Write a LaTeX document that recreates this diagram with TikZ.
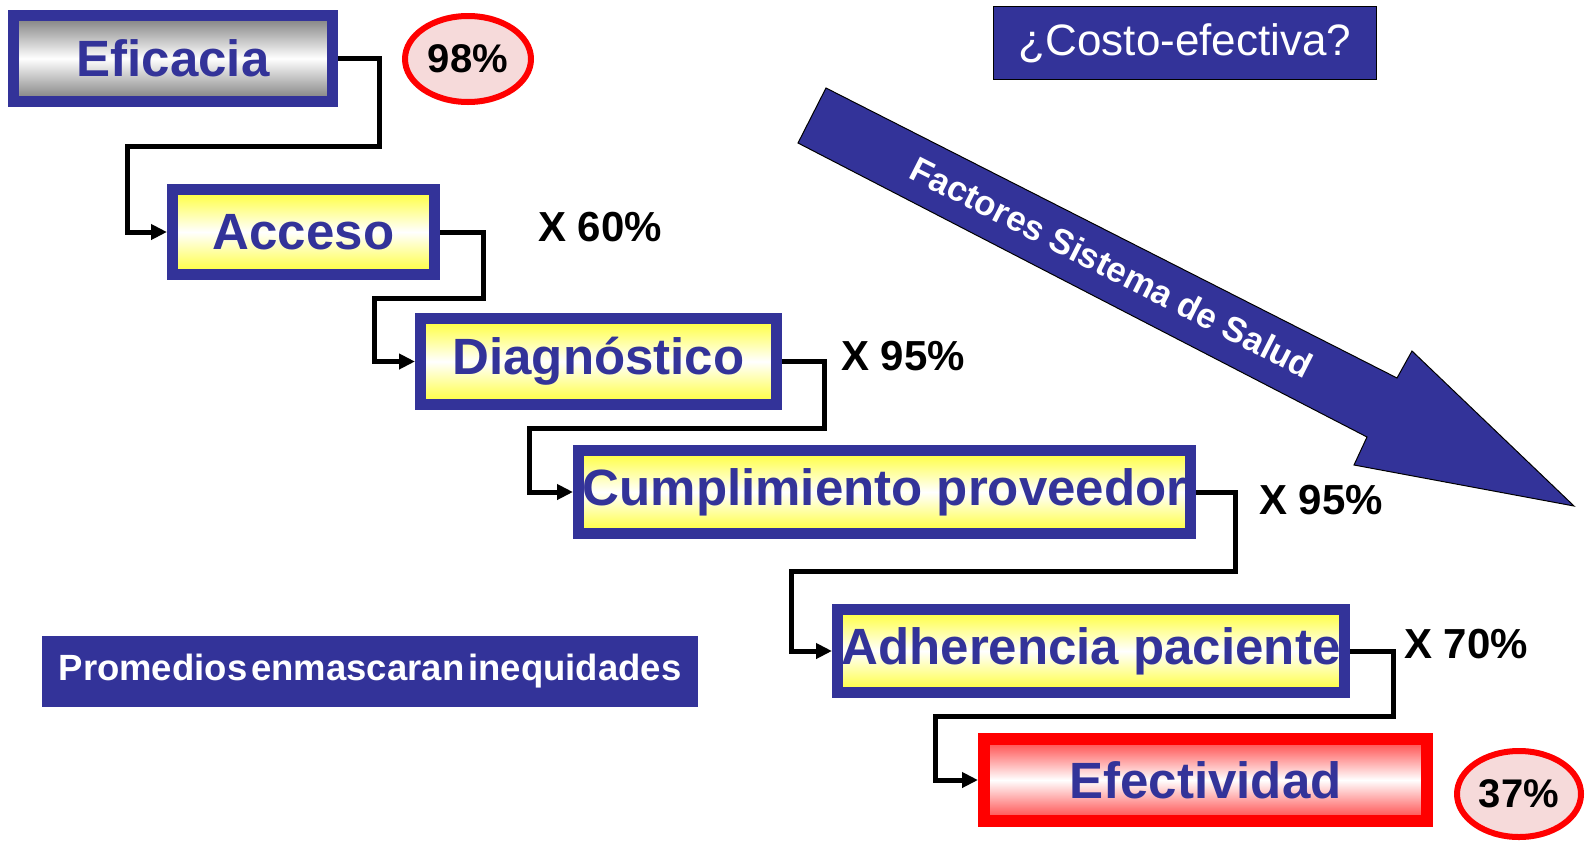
\documentclass[tikz,border=0pt]{standalone}
\usepackage{fontspec}
\setmainfont{Liberation Sans}
\usetikzlibrary{arrows.meta,shapes.geometric}
\definecolor{dblue}{HTML}{333399}
\definecolor{ylw}{HTML}{FFFF33}
\definecolor{pinkfill}{HTML}{F6DADA}
\definecolor{gry}{HTML}{7A7A7A}
\begin{document}
\begin{tikzpicture}[x=1pt,y=-1pt,
  stepbox/.style={draw=dblue, line width=11pt, inner sep=0pt, text=dblue,
    font=\bfseries\fontsize{51}{51}\selectfont},
  yelbox/.style={stepbox, top color=ylw, bottom color=ylw, middle color=white},
  graybox/.style={stepbox, top color=gry, bottom color=gry, middle color=white},
  redbox/.style={stepbox, draw=red, line width=12pt, top color=red!75, bottom color=red!75, middle color=white},
  pct/.style={ellipse, draw=red, line width=6pt, fill=pinkfill, inner sep=0pt,
    font=\bfseries\fontsize{40}{40}\selectfont},
  factor/.style={font=\bfseries\fontsize{42}{42}\selectfont, inner sep=0pt},
  conn/.style={line width=5pt, line join=miter, -{Triangle[length=16pt,width=15pt]}},
  bluelabel/.style={fill=dblue, text=white, inner sep=0pt},
  bigarrow/.style={fill=dblue, draw=black, line width=1pt, line join=miter}
]
\useasboundingbox (0,0) rectangle (1585,844);

% big arrow
\draw[bigarrow] (826,88) -- (1397,378) -- (1412,351) -- (1574,506) -- (1354,465) -- (1367,437) -- (798,143) -- cycle;
\node[rotate=-26.9, text=white, font=\bfseries\fontsize{35}{35}\selectfont] (fs) at (1112,267) {Factores Sistema de Salud};

% step boxes
\node[graybox, minimum width=319pt, minimum height=86pt] (ef) at (173,58.5) {Eficacia};
\node[yelbox, minimum width=262pt, minimum height=85pt] (ac) at (303.5,232) {Acceso};
\node[yelbox, minimum width=356pt, minimum height=86pt] (di) at (598.5,361.5) {Diagnóstico};
\node[yelbox, minimum width=612pt, minimum height=83pt] (cu) at (884.5,492) {Cumplimiento proveedor};
\node[yelbox, minimum width=507pt, minimum height=83pt] (ad) at (1091,651) {Adherencia paciente};
\node[redbox, minimum width=443pt, minimum height=82pt] (efe) at (1205.5,780) {Efectividad};

% percentages
\node[pct, minimum width=126pt, minimum height=86pt] (p98) at (468,59) {98\%};
\node[pct, minimum width=124pt, minimum height=86pt] (p37) at (1519,794) {37\%};

\node[factor] (x60) at (600,227) {X 60\%};
\node[factor] (x95a) at (903,356) {X 95\%};
\node[factor] (x95b) at (1321,500) {X 95\%};
\node[factor] (x70) at (1466,644) {X 70\%};

% connectors
\draw[conn] (ef.east) -| (379,146) -| (127,232) -- (ac.west);
\draw[conn] (ac.east) -| (483,298) -| (374,361.5) -- (di.west);
\draw[conn] (di.east) -| (824,428) -| (529,492) -- (cu.west);
\draw[conn] (cu.east) -| (1235,571) -| (791,651) -- (ad.west);
\draw[conn] (ad.east) -| (1393,716) -| (935,780) -- (efe.west);

% labels
\node[bluelabel, draw=black, line width=1pt, minimum width=383pt, minimum height=73pt,
  font=\fontsize{44}{44}\selectfont] (ce) at (1185,43) {¿Costo-efectiva?};
\node[bluelabel, minimum width=656pt, minimum height=71pt,
  font=\bfseries\fontsize{36.5}{36.5}\selectfont] (pr) at (370,671.5)
  {Promedios\hspace{4pt}enmascaran\hspace{4pt}inequidades};
\end{tikzpicture}
\end{document}
